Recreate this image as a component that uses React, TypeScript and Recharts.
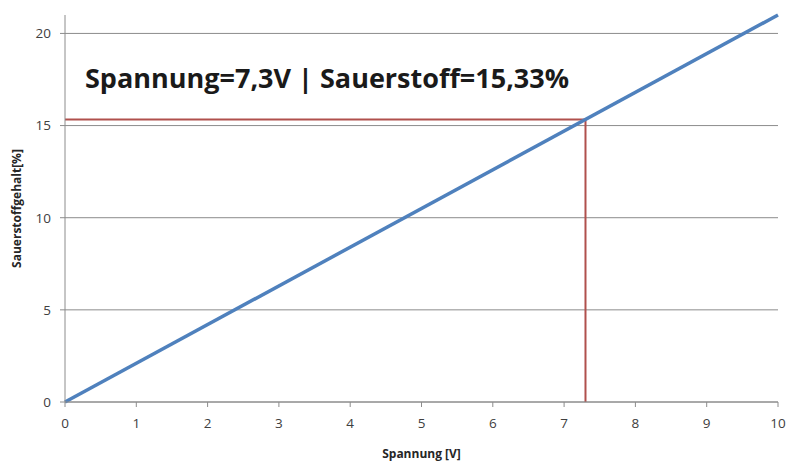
import {
  CartesianGrid,
  Line,
  LineChart,
  XAxis,
  YAxis,
} from "recharts";

const voltage = [0, 10];
const oxygen = [0, 21];
const markVoltage = 7.3;
const markOxygen = 15.33;
const xTicks = [0, 1, 2, 3, 4, 5, 6, 7, 8, 9, 10];
const yTicks = [0, 5, 10, 15, 20];

const lineData = voltage.map((v, i) => ({ x: v, y: oxygen[i] }));
const markData = [
  { x: 0, y: markOxygen },
  { x: markVoltage, y: markOxygen },
  { x: markVoltage, y: 0 },
];

const font = "Open Sans, Noto Sans, sans-serif";
const tickStyle = { fill: "#404040", fontSize: 13.5, fontFamily: font };

export default function App() {
  return (
    <div style={{ position: "absolute", left: 0, top: 0, width: 790, height: 464, background: "#fff" }}>
      <LineChart
        width={790}
        height={464}
        margin={{ top: 15, right: 12, bottom: 0, left: 0 }}
      >
        <CartesianGrid stroke="#8c8c8c" vertical={false} horizontalValues={yTicks} />
        <XAxis
          type="number"
          dataKey="x"
          domain={[0, 10]}
          ticks={xTicks}
          height={62}
          stroke="#8c8c8c"
          tickSize={5}
          tickMargin={11}
          tick={tickStyle}
          label={{
            value: "Spannung [V]",
            position: "insideBottom",
            offset: 6,
            style: { fill: "#262626", fontSize: 12, fontWeight: 700, fontFamily: font },
          }}
        />
        <YAxis
          type="number"
          dataKey="y"
          domain={[0, 21]}
          ticks={yTicks}
          width={65}
          stroke="#8c8c8c"
          tickSize={5}
          tickMargin={9}
          tick={tickStyle}
          label={{
            value: "Sauerstoffgehalt[%]",
            angle: -90,
            position: "insideLeft",
            offset: 17,
            style: { fill: "#262626", fontSize: 12, fontWeight: 700, fontFamily: font, textAnchor: "middle" },
          }}
        />
        <Line
          data={markData}
          dataKey="y"
          type="linear"
          stroke="#B0504D"
          strokeWidth={2}
          dot={false}
          isAnimationActive={false}
        />
        <Line
          data={lineData}
          dataKey="y"
          type="linear"
          stroke="#4F81BD"
          strokeWidth={3.5}
          dot={false}
          isAnimationActive={false}
        />
      </LineChart>
      <div
        style={{
          position: "absolute",
          left: 85,
          top: 59,
          fontFamily: font,
          fontWeight: 700,
          fontSize: 27,
          color: "#1a1a1a",
          whiteSpace: "nowrap",
        }}
      >
        Spannung=7,3V | Sauerstoff=15,33%
      </div>
    </div>
  );
}
